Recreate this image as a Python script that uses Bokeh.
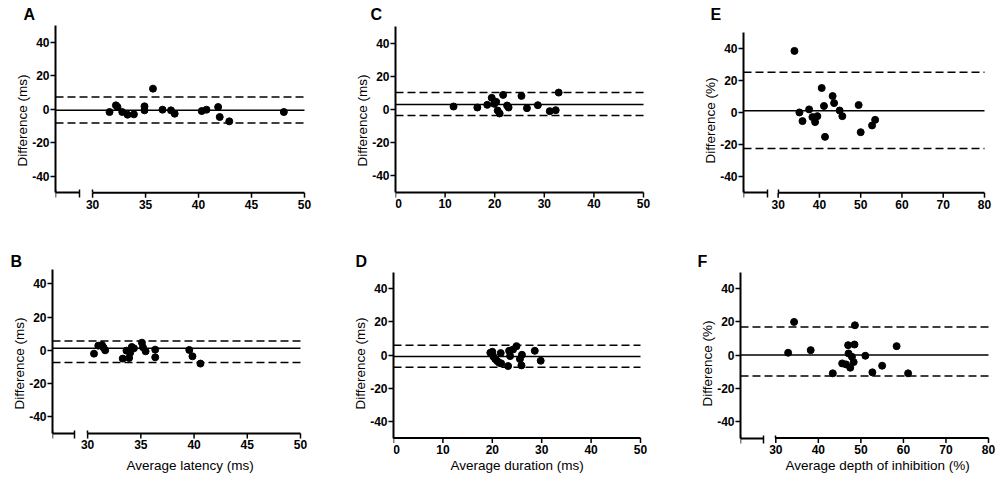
from bokeh.plotting import figure
from bokeh.layouts import column, row
from bokeh.models import LinearAxis, FixedTicker, Range1d, Title
from bokeh.core.properties import value
from bokeh.embed import file_html
from bokeh.resources import INLINE

FONT = "Liberation Sans"

# ---------------- data ----------------
y_ticks = [-40, -20, 0, 20, 40]

a_x = [31.6, 32.2, 32.35, 32.8, 33.3, 33.9, 34.9, 34.9, 35.7, 36.6, 37.4, 37.75, 40.3, 40.75, 41.85, 42.0, 42.9, 48.05]
a_y = [-1.6, 2.4, 1.4, -1.6, -3.2, -3.0, 1.8, -0.6, 12.4, -0.2, -0.6, -2.6, -1.0, -0.2, 1.4, -4.6, -7.2, -1.6]
a_lines = [-0.6, 7.4, -8.2]          # mean, upper, lower limit
a_xticks = [30, 35, 40, 45, 50]

b_x = [30.6, 31.0, 31.35, 31.5, 31.65, 33.3, 33.65, 33.9, 34.0, 34.15, 34.35, 35.1, 35.2, 35.45, 36.35, 36.35, 39.55, 39.85, 40.6]
b_y = [-2.0, 2.8, 3.2, 1.6, 0.0, -5.0, -0.2, -4.6, -1.4, 2.0, 1.2, 4.6, 1.8, -0.6, 0.4, -4.2, 0.2, -3.6, -8.0]
b_lines = [1.2, 5.6, -7.3]
b_xticks = [30, 35, 40, 45, 50]

c_x = [11.7, 16.5, 18.5, 19.4, 19.9, 20.3, 20.6, 21.0, 21.7, 22.5, 22.8, 25.4, 26.5, 28.7, 31.1, 32.3, 32.9]
c_y = [1.8, 1.2, 2.8, 7.0, 3.4, 4.6, -0.6, -2.4, 8.8, 2.4, 1.2, 8.2, 0.8, 2.6, -1.0, -0.4, 10.2]
c_lines = [3.0, 10.2, -3.6]
c_xticks = [0, 10, 20, 30, 40, 50]

d_x = [19.6, 20.0, 20.2, 20.6, 21.0, 21.4, 21.7, 21.8, 23.2, 23.4, 23.6, 24.2, 24.9, 25.6, 26.0, 25.9, 28.6, 29.8]
d_y = [1.4, 2.0, -0.8, -2.4, -3.6, -4.6, 1.2, -5.0, -6.6, 2.6, -0.6, 3.4, 5.4, -2.4, 0.2, -6.2, 2.6, -3.4]
d_lines = [-0.8, 6.0, -7.4]
d_xticks = [0, 10, 20, 30, 40, 50]

e_x = [33.95, 35.15, 35.9, 37.5, 38.3, 38.95, 39.5, 40.55, 41.1, 41.35, 43.2, 43.55, 44.9, 45.55, 49.5, 50.0, 52.75, 53.5]
e_y = [38.3, 0.0, -5.4, 1.9, -2.9, -6.0, -2.3, 15.2, 4.0, -15.2, 10.2, 5.8, 1.2, -2.3, 4.6, -12.3, -8.1, -4.6]
e_lines = [1.0, 25.0, -22.5]
e_xticks = [30, 40, 50, 60, 70, 80]

f_x = [32.9, 34.3, 38.2, 43.4, 45.6, 46.5, 47.0, 47.1, 47.5, 47.9, 48.3, 48.5, 48.6, 51.05, 52.7, 55.0, 58.4, 61.1]
f_y = [1.4, 20.0, 3.0, -11.0, -5.0, -5.6, 6.0, 1.0, -7.6, -1.0, -4.2, 6.4, 18.0, -0.4, -10.4, -6.4, 5.4, -11.0]
f_lines = [0.0, 17.0, -12.6]
f_xticks = [30, 40, 50, 60, 70, 80]

y_label_ms = "Difference (ms)"
y_label_pct = "Difference (%)"
x_label_b = "Average latency (ms)"
x_label_d = "Average duration (ms)"
x_label_f = "Average depth of inhibition (%)"

Y_LO, Y_HI = -50, 50   # drawn extent of the y axis / x-axis location
TICK_PX = 5            # outward tick length
LABEL_GAP_PX = 7       # x-axis line to top of tick-label box
PAD_R = 10             # extra frame width to the right so end labels are not clipped


def style_axis(ax, tick_out=5, tick_in=0, label_standoff=2, axis_label_standoff=1):
    ax.axis_line_width = 2
    ax.axis_line_color = "black"
    ax.major_tick_line_width = 1.5
    ax.major_tick_line_color = "black"
    ax.major_tick_out = tick_out
    ax.major_tick_in = tick_in
    ax.minor_tick_line_color = None
    ax.major_label_text_font = FONT
    ax.major_label_text_font_size = "12px"
    ax.major_label_text_font_style = "bold"
    ax.major_label_text_color = "black"
    ax.major_label_standoff = label_standoff
    ax.axis_label_text_font = FONT
    ax.axis_label_text_font_size = "13.5px"
    ax.axis_label_text_font_style = "normal"
    ax.axis_label_text_color = "black"
    ax.axis_label_standoff = axis_label_standoff


def make_panel(letter, xs, ys, lines, xticks, x_start, break_end, y_view,
               y_label, x_label, geom):
    bl, fw, br, bt, fh, bb, ldx, lstand, xl_offset = geom
    x_end = xticks[-1]
    ux = (x_end - x_start) / fw
    uy = (y_view[1] - y_view[0]) / fh
    p = figure(frame_width=fw + PAD_R, frame_height=fh,
               min_border_left=bl, min_border_right=max(br - PAD_R, 0),
               min_border_top=bt, min_border_bottom=bb,
               x_range=Range1d(x_start, x_end + PAD_R * ux), y_range=Range1d(*y_view),
               x_axis_type=None, y_axis_type=None,
               output_backend="svg", toolbar_location=None)
    p.outline_line_color = None
    p.background_fill_color = "white"
    p.border_fill_color = "white"

    # panel letter
    p.title.text = letter
    p.title.align = "left"
    p.title.offset = ldx
    p.title.standoff = lstand
    p.title.vertical_align = "bottom"
    p.title.text_font = FONT
    p.title.text_font_size = "16px"
    p.title.text_font_style = "bold"
    p.title.text_color = "black"

    # y axis
    yax = LinearAxis(ticker=FixedTicker(ticks=y_ticks), axis_label=y_label,
                     bounds=(Y_LO, Y_HI),
                     major_label_overrides={t: str(t) for t in y_ticks})
    style_axis(yax, label_standoff=1, axis_label_standoff=-1)
    p.add_layout(yax, "left")

    # axis break (left stub + inner tick at the break)
    if break_end is not None:
        stub = LinearAxis(ticker=FixedTicker(ticks=[x_start, break_end]),
                          bounds=(x_start, break_end), fixed_location=Y_LO)
        style_axis(stub, tick_out=5, tick_in=3)
        stub.major_label_text_color = None
        p.add_layout(stub, "below")
        brk = LinearAxis(ticker=FixedTicker(ticks=[xticks[0]]),
                         bounds=(xticks[0], x_end), fixed_location=Y_LO)
        style_axis(brk, tick_out=0, tick_in=3)
        brk.axis_line_color = None
        brk.major_label_text_color = None
        p.add_layout(brk, "below")

    if x_label:
        p.add_layout(Title(text=x_label, align="left", offset=xl_offset, standoff=1,
                           vertical_align="top", text_font=FONT, text_font_size="13.5px",
                           text_font_style="normal", text_color="black"), "below")

    # mean and limits of agreement, from the y axis to the last x tick
    mean, upper, lower = lines
    p.segment(x0=[x_start], y0=[mean], x1=[x_end], y1=[mean],
              line_color="black", line_width=1.5)
    p.segment(x0=[x_start, x_start], y0=[upper, lower], x1=[x_end, x_end], y1=[upper, lower],
              line_color="black", line_width=1.5, line_dash="8 4")

    # main x axis line, outward ticks and tick labels at y = -50
    n = len(xticks)
    p.segment(x0=[xticks[0]], y0=[Y_LO], x1=[x_end], y1=[Y_LO],
              line_color="black", line_width=2)
    p.segment(x0=xticks, y0=[Y_LO] * n, x1=xticks, y1=[Y_LO - TICK_PX * uy] * n,
              line_color="black", line_width=1.5)
    offsets = [3 if t == x_start else 0 for t in xticks]
    p.text(x=xticks, y=[Y_LO - LABEL_GAP_PX * uy] * n, text=[str(t) for t in xticks],
           x_offset=offsets, text_font=value(FONT), text_font_size=value("12px"),
           text_font_style="bold", text_color="black",
           text_align="center", text_baseline="top")

    p.scatter(xs, ys, marker="circle", size=7, fill_color="black", line_color="black")
    return p


# row geometry: top border, frame height, bottom border
R1 = (25, 190, 27)
R2 = (27, 188, 23)

pA = make_panel("A", a_x, a_y, a_lines, a_xticks, 26.5, 28.8, (-63.6, 50.24),
                y_label_ms, None, (55, 249, 31, *R1, -32, 6, 0))
pC = make_panel("C", c_x, c_y, c_lines, c_xticks, 0, None, (-63.86, 50.6),
                y_label_ms, None, (60, 248, 22, *R1, -25, 6, 0))
pE = make_panel("E", e_x, e_y, e_lines, e_xticks, 21.6, 27.3, (-64.13, 54.1),
                y_label_pct, None, (78, 241, 15, *R1, -33, 6, 0))
pB = make_panel("B", b_x, b_y, b_lines, b_xticks, 26.7, 28.8, (-64.5, 48.62),
                y_label_ms, x_label_b, (52, 248, 35, *R2, -42, 0, 74))
pD = make_panel("D", d_x, d_y, d_lines, d_xticks, 0, None, (-61.76, 51.63),
                y_label_ms, x_label_d, (58, 247, 25, *R2, -38, 0, 57))
pF = make_panel("F", f_x, f_y, f_lines, f_xticks, 21.7, 27.2, (-61.76, 51.63),
                y_label_pct, x_label_f, (75, 248, 11, *R2, -43, 0, 45))

layout = column(row(pA, pC, pE), row(pB, pD, pF))

with open("out.html", "w") as fh_out:
    fh_out.write(file_html(layout, INLINE))
